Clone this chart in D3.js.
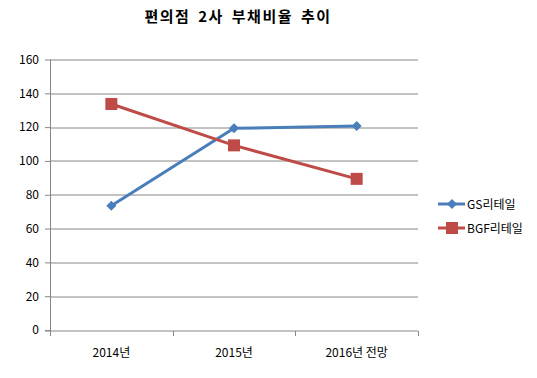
<!DOCTYPE html>
<html>
<head>
<meta charset="utf-8">
<script src="https://cdn.jsdelivr.net/npm/d3@7"></script>
<style>
body { margin: 0; background: #fff; }
text { font-family: "Noto Sans CJK KR", "DejaVu Sans", sans-serif; }
</style>
</head>
<body>
<div id="chart"></div>
<script>
// chart data
var categories = ["2014년", "2015년", "2016년 전망"];
var seriesNames = ["GS리테일", "BGF리테일"];
var gsValues = [73.5, 119.3, 120.7];
var bgfValues = [133.7, 109.2, 89.4];
var yTicks = [0, 20, 40, 60, 80, 100, 120, 140, 160];
var titleText = "편의점 2사 부채비율 추이";

var colors = ["#4a7ebb", "#be4b48"];

var width = 537, height = 378;
var margin = {top: 59.5, left: 50, right: 119, bottom: 48};
var innerW = width - margin.left - margin.right;
var innerH = height - margin.top - margin.bottom;

var svg = d3.select("#chart").append("svg")
    .attr("width", width)
    .attr("height", height);

svg.append("text")
    .attr("x", 238)
    .attr("y", 22)
    .attr("text-anchor", "middle")
    .style("font-size", "15px")
    .style("font-weight", "bold")
    .style("letter-spacing", "1.5px")
    .style("word-spacing", "3px")
    .text(titleText);

var g = svg.append("g")
    .attr("transform", "translate(" + margin.left + "," + margin.top + ")");

var x = d3.scaleBand()
    .domain(categories)
    .range([0, innerW]);

var y = d3.scaleLinear()
    .domain([0, 160])
    .range([innerH, 0]);

// gridlines
g.selectAll("line.grid")
    .data(yTicks.slice(1))
    .enter().append("line")
    .attr("class", "grid")
    .attr("x1", 0)
    .attr("x2", innerW)
    .attr("y1", function(d) { return Math.round(y(d)) + 0.5; })
    .attr("y2", function(d) { return Math.round(y(d)) + 0.5; })
    .attr("stroke", "#868686")
    .attr("stroke-width", 1);

// y axis
var yAxis = d3.axisLeft(y).tickValues(yTicks).tickSize(5).tickPadding(6);
var yg = g.append("g").call(yAxis);
yg.select(".domain").attr("stroke", "#868686").attr("d", "M0.5," + (innerH + 5) + "V0");
yg.selectAll(".tick line").attr("stroke", "#868686");
yg.selectAll(".tick text").style("font-size", "12px").attr("fill", "#000");

// x axis
var xAxis = d3.axisBottom(x).tickSize(0).tickPadding(17);
var xg = g.append("g")
    .attr("transform", "translate(0," + (Math.round(innerH) + 0.5) + ")")
    .call(xAxis);
xg.select(".domain").attr("stroke", "#868686").attr("d", "M-5,0H" + innerW);
xg.selectAll(".tick text").style("font-size", "12px").attr("fill", "#000");
var boundaries = categories.map(function(c) { return x(c); }).concat([innerW]);
xg.selectAll("line.bt")
    .data(boundaries)
    .enter().append("line")
    .attr("class", "bt")
    .attr("x1", function(d) { return Math.round(d) + 0.5; })
    .attr("x2", function(d) { return Math.round(d) + 0.5; })
    .attr("y1", 0)
    .attr("y2", 5)
    .attr("stroke", "#868686");

var series = [
    {name: seriesNames[0], values: gsValues, color: colors[0], shape: "diamond"},
    {name: seriesNames[1], values: bgfValues, color: colors[1], shape: "square"}
];

var line = d3.line()
    .x(function(d, i) { return x(categories[i]) + x.bandwidth() / 2; })
    .y(function(d) { return y(d); });

function drawMarker(sel, shape, color) {
    if (shape === "diamond") {
        sel.append("path")
            .attr("d", "M0,-5L5,0L0,5L-5,0Z")
            .attr("fill", color);
    } else {
        sel.append("rect")
            .attr("x", -6).attr("y", -6)
            .attr("width", 12).attr("height", 12)
            .attr("fill", color);
    }
}

series.forEach(function(s) {
    g.append("path")
        .datum(s.values)
        .attr("fill", "none")
        .attr("stroke", s.color)
        .attr("stroke-width", 3)
        .attr("d", line);

    s.values.forEach(function(v, i) {
        var m = g.append("g")
            .attr("transform", "translate(" + (x(categories[i]) + x.bandwidth() / 2) + "," + y(v) + ")");
        drawMarker(m, s.shape, s.color);
    });
});

// legend
var legend = svg.append("g").attr("transform", "translate(438,204)");
series.forEach(function(s, i) {
    var row = legend.append("g").attr("transform", "translate(0," + (i * 24) + ")");
    row.append("line")
        .attr("x1", 0).attr("x2", 27)
        .attr("y1", 0).attr("y2", 0)
        .attr("stroke", s.color)
        .attr("stroke-width", 3);
    var m = row.append("g").attr("transform", "translate(14,0)");
    drawMarker(m, s.shape, s.color);
    row.append("text")
        .attr("x", 29)
        .attr("y", 4.5)
        .style("font-size", "12px")
        .text(s.name);
});
</script>
</body>
</html>
